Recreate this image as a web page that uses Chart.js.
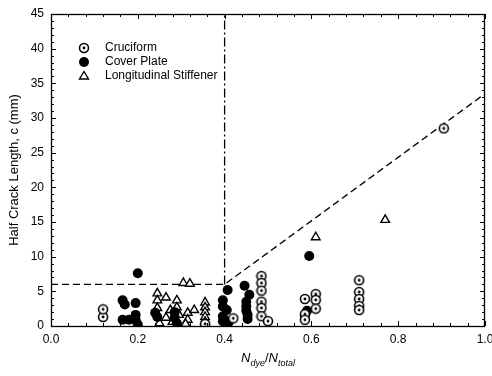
<!DOCTYPE html>
<html>
<head>
<meta charset="utf-8">
<script src="https://cdn.jsdelivr.net/npm/chart.js@4.4.1/dist/chart.umd.min.js"></script>
<style>
  html, body { margin: 0; padding: 0; background: #fff; }
  canvas { display: block; }
</style>
</head>
<body>
<canvas id="myChart" width="492" height="376"></canvas>
<script>
// Data
var seriesNames = ['Cruciform', 'Cover Plate', 'Longitudinal Stiffener'];

var cruciformX = [0.12, 0.12, 0.355, 0.42, 0.485, 0.485, 0.485, 0.485, 0.485, 0.485, 0.50,
                  0.585, 0.585, 0.585, 0.61, 0.61, 0.61, 0.71, 0.71, 0.71, 0.71, 0.71, 0.905];
var cruciformY = [1.3, 2.4, 0.3, 1.1, 7.2, 6.2, 5.1, 3.5, 2.6, 1.4, 0.7,
                  3.9, 1.7, 0.9, 4.6, 3.75, 2.5, 6.6, 4.9, 3.9, 2.9, 2.3, 28.5];

var coverX = [0.2, 0.165, 0.17, 0.195, 0.165, 0.18, 0.195, 0.195, 0.2,
              0.24, 0.245, 0.285, 0.285, 0.29,
              0.407, 0.396, 0.396, 0.405, 0.396, 0.396, 0.41,
              0.446, 0.457, 0.45, 0.45, 0.45, 0.453, 0.453,
              0.595, 0.59, 0.585];
var coverY = [7.6, 3.7, 3.1, 3.3, 0.9, 0.9, 1.6, 0.9, 0.2,
              1.9, 1.3, 2.0, 1.2, 0.4,
              5.2, 3.7, 2.8, 2.3, 1.4, 0.7, 0.6,
              5.8, 4.5, 3.5, 2.8, 2.2, 1.6, 1.0,
              10.1, 2.2, 1.5];

var stiffX = [0.305, 0.32, 0.61, 0.77,
              0.245, 0.245, 0.265, 0.29, 0.29, 0.275, 0.265, 0.28, 0.295, 0.315, 0.315,
              0.355, 0.355, 0.355, 0.355, 0.355, 0.245, 0.31, 0.25, 0.33];
var stiffY = [6.2, 6.1, 12.8, 15.3,
              4.7, 3.7, 4.1, 3.7, 2.7, 2.3, 1.2, 0.6, 1.6, 1.9, 0.9,
              3.4, 2.7, 2.0, 1.3, 0.6, 2.6, 0.3, 0.4, 2.3];

// limit lines
var limitX = [0, 0.4, 1.0];
var limitY = [6, 6, 33.5];
var verticalX = [0.4, 0.4];
var verticalY = [6, 45];

var xTicks = [0, 0.2, 0.4, 0.6, 0.8, 1.0];
var yTicks = [0, 5, 10, 15, 20, 25, 30, 35, 40, 45];

function toPoints(xs, ys) {
  return xs.map(function (x, i) { return { x: x, y: ys[i] }; });
}

// circle with a dot marker
function makeDotCircle() {
  var c = document.createElement('canvas');
  c.width = 12; c.height = 12;
  var g = c.getContext('2d');
  g.fillStyle = '#fff';
  g.strokeStyle = '#000';
  g.lineWidth = 1.6;
  g.beginPath(); g.arc(6, 6, 4.5, 0, Math.PI * 2); g.fill(); g.stroke();
  g.fillStyle = '#000';
  g.beginPath(); g.arc(6, 6, 1.4, 0, Math.PI * 2); g.fill();
  return c;
}
var dotCircle = makeDotCircle();

var ctx = document.getElementById('myChart').getContext('2d');

// inner ticks, frame, axis titles and legend
var decorations = {
  id: 'decorations',
  afterDraw: function (chart) {
    var c = chart.ctx, a = chart.chartArea;
    var xs = chart.scales.x, ys = chart.scales.y;
    c.save();
    c.strokeStyle = '#000';
    c.lineWidth = 1.3;
    c.strokeRect(a.left + 0.5, a.top + 0.5, a.right - a.left - 1, a.bottom - a.top);

    c.lineWidth = 1;
    c.beginPath();
    for (var i = 0; i <= 25; i++) {
      var v = i * 0.04;
      var px = Math.round(xs.getPixelForValue(v)) + 0.5;
      var len = (i % 5 === 0) ? 5 : 3;
      c.moveTo(px, a.bottom); c.lineTo(px, a.bottom - len);
      c.moveTo(px, a.top); c.lineTo(px, a.top + len);
    }
    for (var j = 0; j <= 45; j++) {
      var py = Math.round(ys.getPixelForValue(j)) + 0.5;
      var l2 = (j % 5 === 0) ? 5 : 3;
      c.moveTo(a.left, py); c.lineTo(a.left + l2, py);
      c.moveTo(a.right, py); c.lineTo(a.right - l2, py);
    }
    c.stroke();

    // y title
    c.fillStyle = '#000';
    c.font = '13px "Liberation Sans", Arial, sans-serif';
    c.textAlign = 'center';
    c.textBaseline = 'middle';
    c.save();
    c.translate(14, (a.top + a.bottom) / 2);
    c.rotate(-Math.PI / 2);
    c.fillText('Half Crack Length, c (mm)', 0, 0);
    c.restore();

    // x title N_dye / N_total
    var parts = [
      { t: 'N', f: 'italic 13px "Liberation Sans", Arial, sans-serif', dy: 0 },
      { t: 'dye', f: 'italic 9px "Liberation Sans", Arial, sans-serif', dy: 4 },
      { t: '/', f: '13px "Liberation Sans", Arial, sans-serif', dy: 0 },
      { t: 'N', f: 'italic 13px "Liberation Sans", Arial, sans-serif', dy: 0 },
      { t: 'total', f: 'italic 9px "Liberation Sans", Arial, sans-serif', dy: 4 }
    ];
    var total = 0;
    parts.forEach(function (p) { c.font = p.f; p.w = c.measureText(p.t).width; total += p.w; });
    var tx = (a.left + a.right) / 2 - total / 2;
    c.textAlign = 'left';
    c.textBaseline = 'alphabetic';
    parts.forEach(function (p) { c.font = p.f; c.fillText(p.t, tx, 362 + p.dy); tx += p.w; });

    // legend
    var ly = [48, 62, 76];
    c.font = '12px "Liberation Sans", Arial, sans-serif';
    c.textBaseline = 'middle';
    for (var k = 0; k < 3; k++) {
      var mx = 84, my = ly[k];
      if (k === 0) {
        c.drawImage(dotCircle, mx - 6, my - 6);
      } else if (k === 1) {
        c.beginPath(); c.arc(mx, my, 5, 0, Math.PI * 2); c.fill();
      } else {
        c.beginPath();
        c.moveTo(mx, my - 4.5); c.lineTo(mx + 4.5, my + 3); c.lineTo(mx - 4.5, my + 3); c.closePath();
        c.lineWidth = 1.4; c.stroke();
      }
      c.fillText(seriesNames[k], 105, my);
    }
    c.restore();
  }
};

var chart = new Chart(ctx, {
  type: 'scatter',
  data: {
    datasets: [
      {
        label: seriesNames[0],
        data: toPoints(cruciformX, cruciformY),
        pointStyle: dotCircle,
        pointRadius: 6
      },
      {
        label: seriesNames[1],
        data: toPoints(coverX, coverY),
        pointStyle: 'circle',
        pointRadius: 5,
        backgroundColor: '#000',
        borderColor: '#000',
        borderWidth: 0
      },
      {
        label: seriesNames[2],
        data: toPoints(stiffX, stiffY),
        pointStyle: 'triangle',
        pointRadius: 5,
        backgroundColor: '#fff',
        borderColor: '#000',
        borderWidth: 1.4
      },
      {
        label: 'limit',
        type: 'line',
        data: toPoints(limitX, limitY),
        showLine: true,
        borderColor: '#000',
        borderWidth: 1.3,
        borderDash: [7, 4],
        pointRadius: 0,
        fill: false
      },
      {
        label: 'limit2',
        type: 'line',
        data: toPoints(verticalX, verticalY),
        showLine: true,
        borderColor: '#000',
        borderWidth: 1.3,
        borderDash: [9, 3, 2, 3],
        pointRadius: 0,
        fill: false
      }
    ]
  },
  options: {
    responsive: false,
    animation: false,
    layout: { padding: { top: 14, right: 6, left: 0, bottom: 0 } },
    plugins: { legend: { display: false }, tooltip: { enabled: false } },
    scales: {
      x: {
        type: 'linear',
        min: 0, max: 1,
        grid: { display: false, drawTicks: false },
        border: { display: false },
        afterBuildTicks: function (s) { s.ticks = xTicks.map(function (v) { return { value: v }; }); },
        afterFit: function (s) { s.height = 50; s.paddingLeft = 0; s.paddingRight = 0; },
        ticks: {
          padding: 6,
          color: '#000',
          font: { family: '"Liberation Sans", Arial, sans-serif', size: 12 },
          maxRotation: 0,
          callback: function (v) { return v.toFixed(1); }
        }
      },
      y: {
        type: 'linear',
        min: 0, max: 45,
        grid: { display: false, drawTicks: false },
        border: { display: false },
        afterBuildTicks: function (s) { s.ticks = yTicks.map(function (v) { return { value: v }; }); },
        afterFit: function (s) { s.width = 51; s.paddingTop = 0; s.paddingBottom = 0; },
        ticks: {
          padding: 7,
          color: '#000',
          font: { family: '"Liberation Sans", Arial, sans-serif', size: 12 }
        }
      }
    }
  },
  plugins: [decorations]
});
</script>
</body>
</html>
